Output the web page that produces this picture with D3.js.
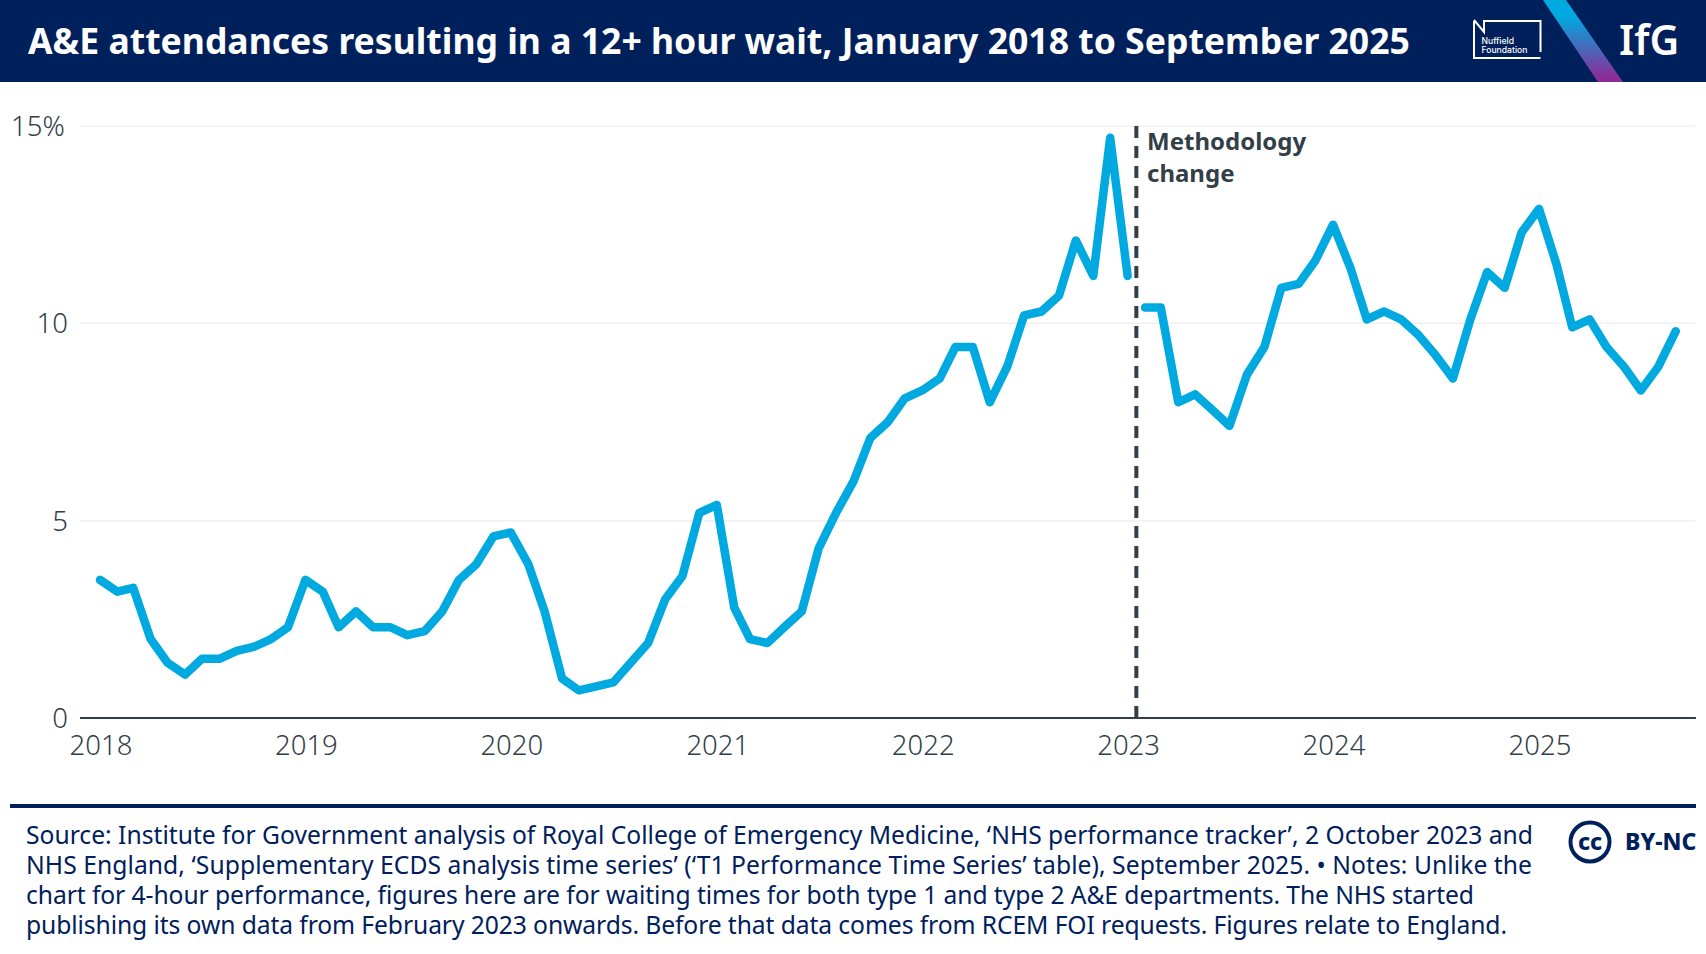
<!DOCTYPE html>
<html><head><meta charset="utf-8">
<script src="https://cdn.jsdelivr.net/npm/d3@7"></script>
<style>html,body{margin:0;padding:0;background:#fff;overflow:hidden}text{font-family:"Noto Sans",sans-serif}</style>
</head><body><svg id="c" width="1706" height="954"></svg>
<script>
const title = "A&E attendances resulting in a 12+ hour wait, January 2018 to September 2025";
const startDate = new Date(2018,0,1);
const rcemValues = [3.5,3.2,3.3,2.0,1.4,1.1,1.5,1.5,1.7,1.8,2.0,2.3,
 3.5,3.2,2.3,2.7,2.3,2.3,2.1,2.2,2.7,3.5,3.9,4.6,
 4.7,3.9,2.7,1.0,0.7,0.8,0.9,1.4,1.9,3.0,3.6,5.2,
 5.4,2.8,2.0,1.9,2.3,2.7,4.3,5.2,6.0,7.1,7.5,8.1,
 8.3,8.6,9.4,9.4,8.0,8.9,10.2,10.3,10.7,12.1,11.2,14.7,
 11.2];
const nhsValues = [10.4,10.4,8.0,8.2,7.8,7.4,8.7,9.4,10.9,11.0,11.6,
 12.5,11.4,10.1,10.3,10.1,9.7,9.2,8.6,10.1,11.3,10.9,12.3,
 12.9,11.5,9.9,10.1,9.4,8.9,8.3,8.9,9.8];
const yTicks = [0,5,10,15];
const xTicks = [2018,2019,2020,2021,2022,2023,2024,2025];
const annotation = ["Methodology","change"];
const logoLines = ["Nuffield","Foundation"];
const footer = ["Source: Institute for Government analysis of Royal College of Emergency Medicine, ‘NHS performance tracker’, 2 October 2023 and",
"NHS England, ‘Supplementary ECDS analysis time series’ (‘T1 Performance Time Series’ table), September 2025. • Notes: Unlike the",
"chart for 4-hour performance, figures here are for waiting times for both type 1 and type 2 A&E departments. The NHS started",
"publishing its own data from February 2023 onwards. Before that data comes from RCEM FOI requests. Figures relate to England."];

const svg = d3.select("#c");
const navy="#00205b", slate="#333f48", blue="#00a9e0";
const defs = svg.append("defs");
const g = defs.append("linearGradient").attr("id","w").attr("x1",0).attr("y1",0).attr("x2",0).attr("y2",1);
g.append("stop").attr("offset","0.2").attr("stop-color","#00a9e0");
g.append("stop").attr("offset","0.95").attr("stop-color","#8c2c96");

svg.append("rect").attr("width",1706).attr("height",82).attr("fill",navy);
svg.append("path").attr("d","M1543 0H1566L1623 82H1598Z").attr("fill","url(#w)");
svg.append("text").attr("x",28).attr("y",54).attr("fill","#fff").attr("font-size",35.55).attr("font-weight",700).text(title);
// Nuffield logo
svg.append("path").attr("d","M1474 21V58H1540.5M1540.5 52V21H1483").attr("fill","none").attr("stroke","#fff").attr("stroke-width",2);
svg.append("path").attr("d","M1474 20L1484 32V21").attr("fill","none").attr("stroke","#fff").attr("stroke-width",2);
svg.append("text").attr("fill","#fff").attr("font-size",8.6).attr("font-weight",500).style("font-family","Inter,sans-serif").selectAll("tspan").data(logoLines).join("tspan")
 .attr("x",1481.5).attr("y",(d,i)=>43.5+i*9.2).text(d=>d);
svg.append("text").attr("x",1619).attr("y",55).attr("fill","#fff").attr("font-size",41).attr("font-weight",600).text("IfG");

const y = d3.scaleLinear().domain([0,15]).range([718,126]);
const x = d3.scaleTime().domain([new Date(2018,0,1),new Date(2025,0,1)]).range([100,1539]);
const dateAt = i => d3.timeMonth.offset(startDate,i);

svg.append("g").selectAll("line").data(yTicks.filter(d=>d>0)).join("line")
 .attr("x1",80).attr("x2",1695).attr("y1",y).attr("y2",y).attr("stroke","#f0f0f0").attr("stroke-width",1.5);
svg.append("line").attr("x1",80).attr("x2",1696).attr("y1",y(0)).attr("y2",y(0)).attr("stroke",slate).attr("stroke-width",2);

svg.append("g").selectAll("text").data(yTicks).join("text")
 .attr("x",d=>d===15?11:68).attr("y",d=>y(d)+10).attr("text-anchor",d=>d===15?"start":"end").attr("fill",slate).attr("font-size",27.5).attr("font-weight",300)
 .text(d=>d===15?"15%":d);
svg.append("g").selectAll("text").data(xTicks).join("text")
 .attr("x",d=>x(new Date(d,0,1))+1).attr("y",755).attr("text-anchor","middle").attr("fill",slate).attr("font-size",27.5).attr("font-weight",300).text(d=>d);

const xBreak = (x(dateAt(60))+x(dateAt(61)))/2;
svg.append("line").attr("x1",xBreak).attr("x2",xBreak).attr("y1",y(15)).attr("y2",y(0)).attr("stroke",slate).attr("stroke-width",4).attr("stroke-dasharray","12 8");
const line = d3.line().x(d=>x(d.d)).y(d=>y(d.v));
const s1 = rcemValues.map((v,i)=>({d:dateAt(i),v}));
const s2 = nhsValues.map((v,i)=>({d:dateAt(i+61),v}));
svg.append("g").selectAll("path").data([s1,s2]).join("path").attr("d",line).attr("fill","none").attr("stroke",blue).attr("stroke-width",8.5).attr("stroke-linejoin","round").attr("stroke-linecap","round");

svg.append("g").selectAll("text").data(annotation).join("text").attr("x",1147).attr("y",(d,i)=>150+i*32).attr("fill",slate).attr("font-size",24).attr("font-weight",700).text(d=>d);

svg.append("rect").attr("x",10).attr("y",804).attr("width",1686).attr("height",4).attr("fill",navy);
const footerWidths = [1507,1506,1448,1481];
svg.append("text").attr("fill",navy).attr("font-size",24.66).selectAll("tspan").data(footer).join("tspan")
 .attr("x",26).attr("y",(d,i)=>844+i*30).attr("textLength",(d,i)=>footerWidths[i]).attr("lengthAdjust","spacing").text(d=>d);

// CC BY-NC
svg.append("circle").attr("cx",1590).attr("cy",842).attr("r",19.5).attr("fill","none").attr("stroke",navy).attr("stroke-width",4);
svg.append("text").attr("x",1590).attr("y",850).attr("text-anchor","middle").attr("fill",navy).attr("font-size",23).attr("font-weight",800).text("cc");
svg.append("text").attr("x",1625).attr("y",850).attr("fill",navy).attr("font-size",23).attr("font-weight",800).text("BY-NC");
</script></body></html>
